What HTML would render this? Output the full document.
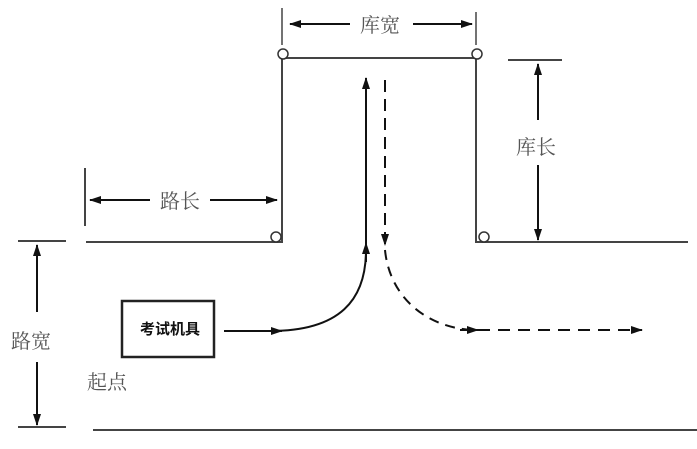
<!DOCTYPE html>
<html><head><meta charset="utf-8"><style>
html,body{margin:0;padding:0;background:#fff;}
text{font-family:"Liberation Serif","Noto Serif CJK SC",serif;fill:#555;}
</style></head><body>
<svg width="697" height="444" viewBox="0 0 697 444" xmlns="http://www.w3.org/2000/svg">
<defs>
<marker id="a" markerWidth="12" markerHeight="8" refX="11" refY="4" orient="auto" markerUnits="userSpaceOnUse"><path d="M0,0 L12,4 L0,8 Z" fill="#111"/></marker>
</defs>
<g stroke="#444" stroke-width="2" fill="none">
<path d="M86,242 H282 V58 H476 V242 H688"/>
<path d="M93,430 H697"/>
<line x1="282" y1="8" x2="282" y2="45" stroke-width="1.5"/>
<line x1="476" y1="12" x2="476" y2="45" stroke-width="1.5"/>
<line x1="508" y1="60" x2="562" y2="60"/>
<line x1="85" y1="168" x2="85" y2="226"/>
<line x1="18" y1="241" x2="66" y2="241"/>
<line x1="18" y1="427" x2="66" y2="427"/>
</g>
<g fill="#fff" stroke="#333" stroke-width="1.5">
<circle cx="283" cy="54" r="5"/><circle cx="477" cy="54" r="5"/>
<circle cx="276" cy="237" r="5"/><circle cx="484" cy="237" r="5"/>
</g>
<g stroke="#111" stroke-width="2" fill="none">
<line x1="350" y1="24" x2="290" y2="24" marker-end="url(#a)"/>
<line x1="413" y1="24" x2="472" y2="24" marker-end="url(#a)"/>
<line x1="538" y1="120" x2="538" y2="64" marker-end="url(#a)"/>
<line x1="538" y1="165" x2="538" y2="240" marker-end="url(#a)"/>
<line x1="150" y1="200" x2="90" y2="200" marker-end="url(#a)"/>
<line x1="210" y1="200" x2="277" y2="200" marker-end="url(#a)"/>
<line x1="37" y1="312" x2="37" y2="245" marker-end="url(#a)"/>
<line x1="37" y1="362" x2="37" y2="425" marker-end="url(#a)"/>
<line x1="366" y1="250" x2="366" y2="78" marker-end="url(#a)"/>
<path d="M366,262 V243" marker-end="url(#a)"/>
<path d="M224,331 H282" marker-end="url(#a)"/>
<path d="M270,331 C340,331 366,300 366,250"/>
<line x1="385" y1="80" x2="385" y2="245" stroke-dasharray="12,7" marker-end="url(#a)"/>
<path d="M385,250 C390,300 430,329 475,330" stroke-dasharray="10,7"/>
<path d="M460,330 H478" marker-end="url(#a)"/>
<path d="M478,330 H642" stroke-dasharray="12,8" marker-end="url(#a)"/>
</g>
<rect x="122" y="301" width="92" height="56" fill="#fff" stroke="#222" stroke-width="2.5"/>
<text x="170" y="334" font-size="15" font-weight="bold" text-anchor="middle" style="fill:#111;font-family:'Liberation Sans','Noto Sans CJK SC',sans-serif">考试机具</text>
<text x="380" y="32" font-size="20" text-anchor="middle">库宽</text>
<text x="536" y="154" font-size="20" text-anchor="middle">库长</text>
<text x="180" y="208" font-size="20" text-anchor="middle">路长</text>
<text x="31" y="348" font-size="20" text-anchor="middle">路宽</text>
<text x="107" y="389" font-size="20" text-anchor="middle">起点</text>
</svg>
</body></html>
